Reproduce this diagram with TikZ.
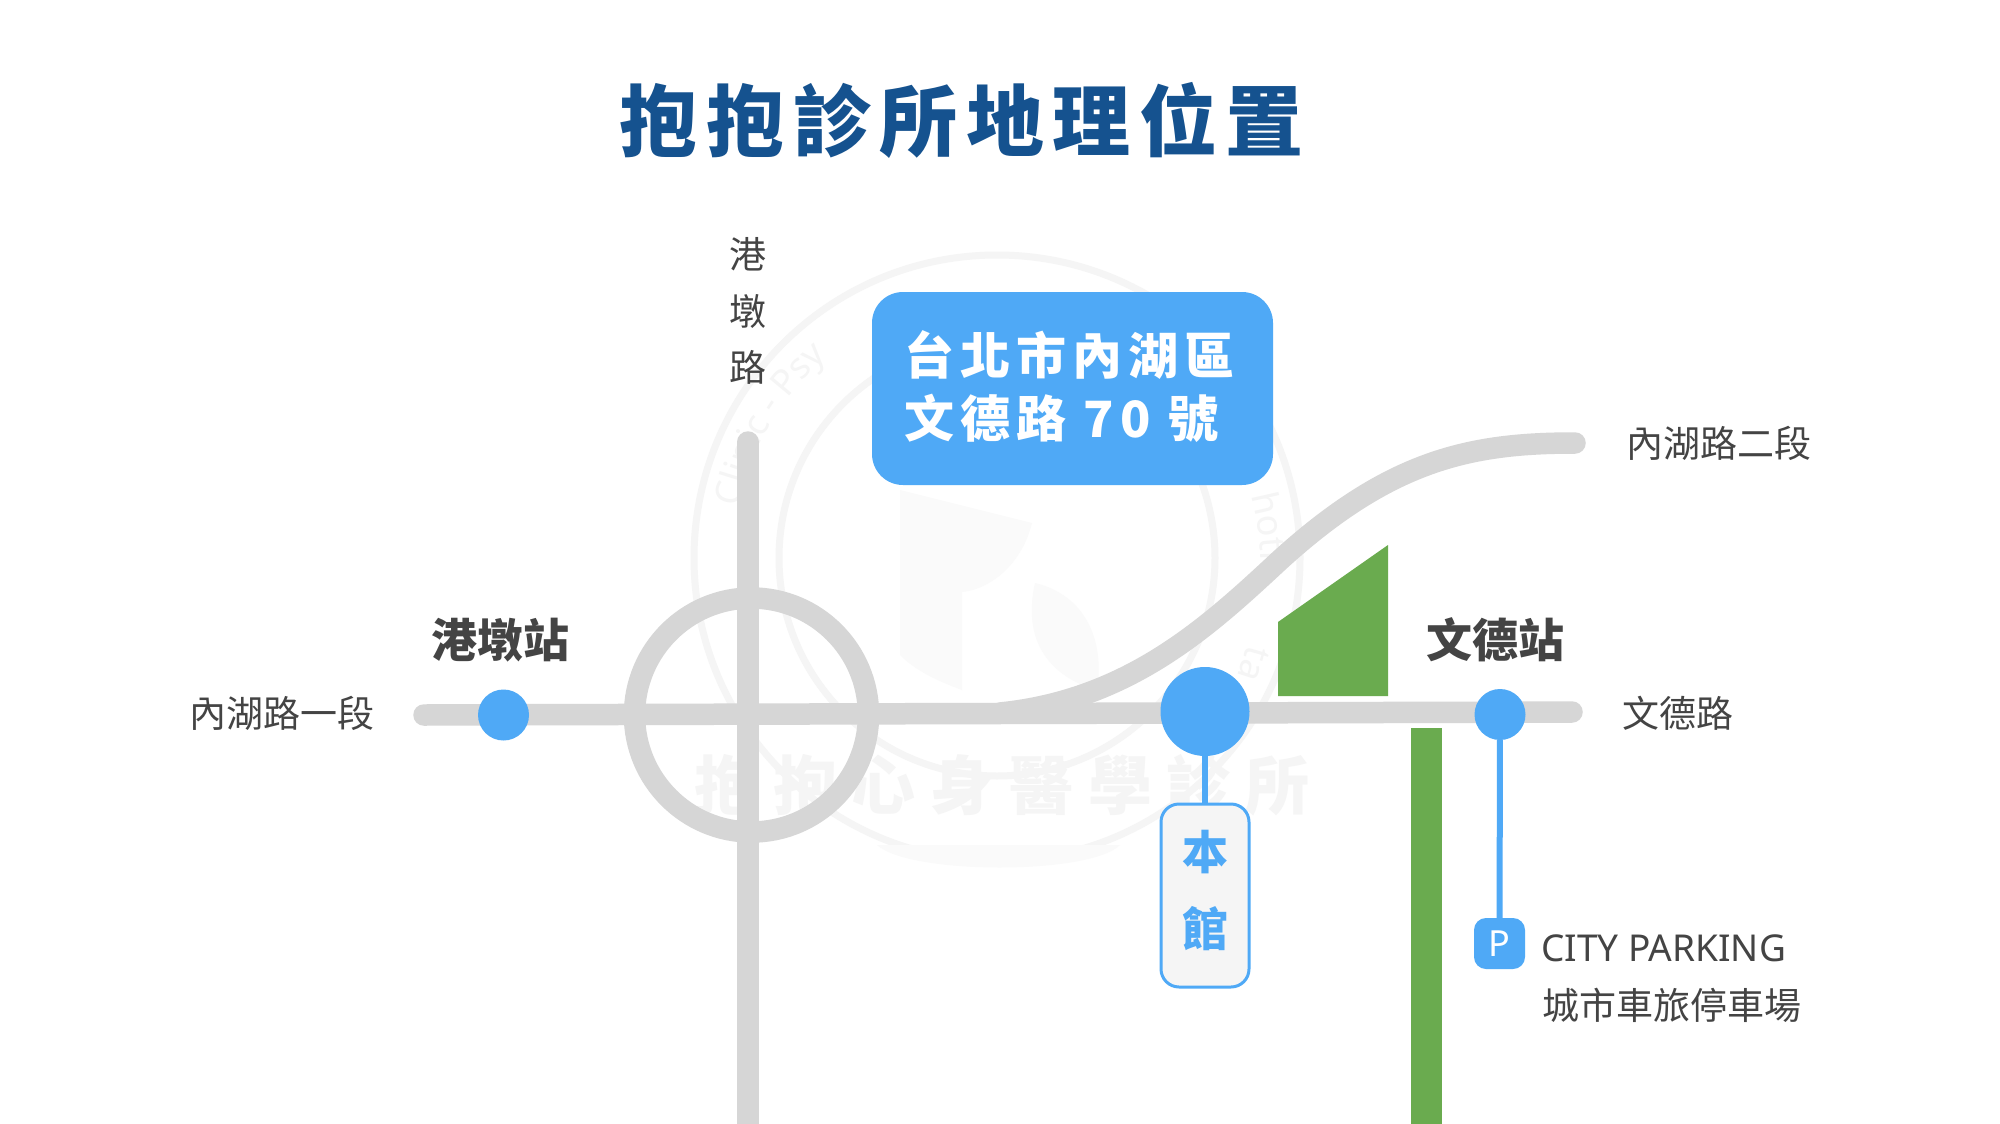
\documentclass[tikz,border=0pt]{standalone}
\usepackage{fontspec}
\usetikzlibrary{decorations.text}
\setmainfont{Noto Sans}
\newfontfamily\cjk{Noto Sans CJK TC}
\newfontfamily\cjktitle[LetterSpace=11]{Noto Sans CJK TC}
\newfontfamily\cjkbox[LetterSpace=12]{Noto Sans CJK TC}
\newfontfamily\cjkmark[LetterSpace=23]{Noto Sans CJK TC}
\newcommand{\fs}[1]{\fontsize{#1}{#1}\selectfont}
\definecolor{roadgray}{HTML}{D6D6D6}
\definecolor{skyblue}{HTML}{4FA9F6}
\definecolor{parkgreen}{HTML}{6AAB4F}
\definecolor{titleblue}{HTML}{15528F}
\definecolor{inkgray}{HTML}{444444}
\definecolor{markgray}{HTML}{F5F5F5}
\definecolor{markpale}{HTML}{FAFAFA}
\tikzset{
  road/.style={draw=roadgray,line width=21.5pt,line cap=round},
  stationdot/.style={circle,fill=skyblue,inner sep=0pt,minimum size=#1},
  link/.style={draw=skyblue,line width=6pt},
  label/.style={inner sep=0pt,text=inkgray,font=\cjk\fs{37}},
  stationlabel/.style={inner sep=0pt,text=inkgray,font=\cjk\bfseries\fs{46}},
  ring/.style={draw=markgray,line width=7pt},
  marktext/.style={decoration={text along path,text align=center,text={|\fs{36}\color{markgray}|#1}},decorate}
}
\begin{document}
\begin{tikzpicture}[x=1pt,y=-1pt]
\useasboundingbox (0,0) rectangle (2000,1124);
\clip (0,0) rectangle (2000,1124);
\fill[white] (0,0) rectangle (2000,1124);

% faint watermark
\draw[ring] (997,558) circle[radius=303];
\draw[ring] (997,558) circle[radius=218];
\fill[markpale] (900,490) -- (1032,523) .. controls (1020,570) and (985,590) .. (962,592) -- (962,690) .. controls (935,680) and (915,670) .. (900,655) -- cycle;
\fill[markpale] (1035,583) .. controls (1085,595) and (1105,640) .. (1097,690) .. controls (1060,680) and (1020,650) .. (1035,583) -- cycle;
\fill[markpale] (877,845) -- (1120,845) .. controls (1090,875) and (910,875) .. (877,845) -- cycle;
\node[inner sep=0pt,text=markgray] (markname) at (1002,785) {\cjkmark\bfseries\fs{64}抱抱心身醫學診所};
\path[marktext={Clinic - Psy}] (997,558) ++(-177:263) arc[start angle=-177,end angle=-122,radius=263];
\path[marktext={hoth}] (1246,480) .. controls (1258,510) and (1262,550) .. (1260,590);
\path[marktext={ta}] (1252,625) .. controls (1246,650) and (1240,670) .. (1230,695);

% roads
\coordinate (hleft) at (424,715);
\coordinate (hright) at (1572,712);
\coordinate (vtop) at (748,442);
\coordinate (vbot) at (748,1140);
\coordinate (ctr) at (751.5,715);
\coordinate (curvestart) at (1000,713);
\coordinate (curveend) at (1575,443);
\draw[road] (hleft) -- (hright);
\draw[road] (vtop) -- (vbot);
\draw[draw=roadgray,line width=21.5pt] (ctr) circle[radius=117];
\draw[road] (curvestart) .. controls (1130,700) and (1210,625) .. (1280,560) .. controls (1390,460) and (1470,443) .. (curveend);

% green blocks
\fill[parkgreen] (1278,622) -- (1388,545) -- (1388,696) -- (1278,696) -- cycle;
\fill[parkgreen] (1411,728) rectangle (1442,1124);

% stations
\node[stationdot=51pt] (gangdun) at (503.5,715) {};
\node[stationdot=51pt] (wende) at (1500,714.5) {};
\node[stationdot=89pt] (clinic) at (1205,711.5) {};

% main building
\node[draw=skyblue,line width=3pt,fill=white!96!black,rounded corners=18pt,minimum width=88pt,minimum height=183pt,inner sep=0pt] (benguan) at (1205,895.5) {};
\draw[link] (clinic) -- (benguan);
\node[inner sep=0pt,text=skyblue,font=\cjk\bfseries\fs{46}] (ben) at (1205,852) {本};
\node[inner sep=0pt,text=skyblue,font=\cjk\bfseries\fs{46}] (guan) at (1205,929) {館};

% parking
\node[fill=skyblue,rounded corners=12pt,minimum width=51pt,minimum height=51pt,inner sep=0pt,text=white,font=\bfseries\fs{36}] (pbox) at (1499.5,943.5) {P};
\draw[link] (wende) -- (pbox);
\node[inner sep=0pt,anchor=west,text=inkgray,font=\fs{37}] (citypark) at (1541,948) {CITY PARKING};
\node[label,anchor=west] (cityparkzh) at (1542,1005) {城市車旅停車場};

% labels
\node[inner sep=0pt,text=titleblue] (title) at (962,120) {\cjktitle\bfseries\fs{78}抱抱診所地理位置};
\node[label] (l1) at (748,254) {港};
\node[label] (l2) at (748,311) {墩};
\node[label] (l3) at (748,367) {路};
\node[label] (nh1) at (281.5,713) {內湖路一段};
\node[label] (nh2) at (1719,443) {內湖路二段};
\node[label] (wd) at (1678,713) {文德路};
\node[stationlabel] (gds) at (500,640) {港墩站};
\node[stationlabel] (wds) at (1495,640) {文德站};

% address
\node[fill=skyblue,rounded corners=31pt,minimum width=401pt,minimum height=193pt,inner sep=0pt] (addr) at (1072.5,388.5) {};
\node[inner sep=0pt,text=white,anchor=west] (addr1) at (904,355) {\cjkbox\bfseries\fs{50}台北市內湖區};
\node[inner sep=0pt,text=white,anchor=west] (addr2) at (904,418) {\cjkbox\bfseries\fs{50}文德路 70 號};
\end{tikzpicture}
\end{document}
